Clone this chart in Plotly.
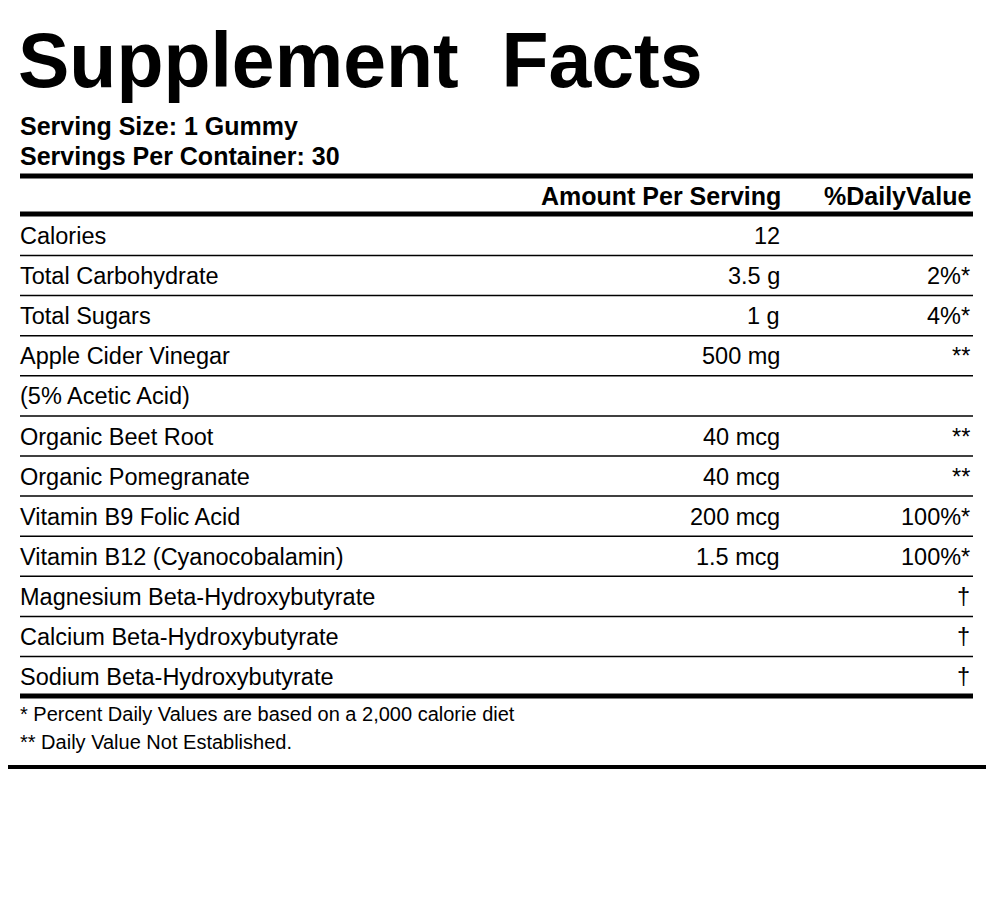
import plotly.graph_objects as go

# label content
title = "Supplement  Facts"
serving_lines = ["Serving Size: 1 Gummy", "Servings Per Container: 30"]
header = ["Amount Per Serving", "%DailyValue"]
nutrients = ["Calories", "Total Carbohydrate", "Total Sugars", "Apple Cider Vinegar",
             "(5% Acetic Acid)", "Organic Beet Root", "Organic Pomegranate",
             "Vitamin B9 Folic Acid", "Vitamin B12 (Cyanocobalamin)",
             "Magnesium Beta-Hydroxybutyrate", "Calcium Beta-Hydroxybutyrate",
             "Sodium Beta-Hydroxybutyrate"]
amounts = ["12", "3.5 g", "1 g", "500 mg", "", "40 mcg", "40 mcg", "200 mcg",
           "1.5 mcg", "", "", ""]
daily_values = ["", "2%*", "4%*", "**", "", "**", "**", "100%*", "100%*", "†", "†", "†"]
footnotes = ["* Percent Daily Values are based on a 2,000 calorie diet",
             "** Daily Value Not Established."]

FONT = "Liberation Sans, Arial, Helvetica, sans-serif"
fig = go.Figure()
shapes = []
ann = []

def text(x, y, s, size, anchor="left", bold=False):
    ann.append(dict(x=x, y=y, text=f"<b>{s}</b>" if bold else s, showarrow=False,
                    xanchor=anchor, yanchor="middle", xshift=-2 if anchor == "left" else 2,
                    font=dict(family=FONT, size=size, color="black")))

def hline(y, w):
    shapes.append(dict(type="line", x0=20, x1=973, y0=y, y1=y,
                       line=dict(color="black", width=w)))

# outer border
shapes.append(dict(type="rect", x0=2, x1=991, y0=2, y1=767,
                   line=dict(color="black", width=4)))

text(18, 60, title, 77, bold=True)
text(20, 126, serving_lines[0], 25, bold=True)
text(20, 156, serving_lines[1], 25, bold=True)
hline(176, 5)
text(781, 196, header[0], 25, "right", bold=True)
text(971, 196, header[1], 25, "right", bold=True)
hline(214, 5)

y0, step = 236, 40.1
for i, name in enumerate(nutrients):
    y = y0 + i * step
    text(20, y, name, 23.5)
    if amounts[i]:
        text(780, y, amounts[i], 23.5, "right")
    if daily_values[i]:
        text(970, y, daily_values[i], 23.5, "right")
    if i < len(nutrients) - 1:
        hline(y + 19.5, 1.5)
hline(696, 5)
text(20, 714, footnotes[0], 20)
text(20, 742, footnotes[1], 20)

# page body has an 8px margin: shift the plot so axis units equal page pixels
fig.update_layout(
    width=986, height=907, margin=dict(l=0, r=0, t=0, b=0),
    plot_bgcolor="white", paper_bgcolor="white",
    xaxis=dict(range=[8, 994], visible=False),
    yaxis=dict(range=[915, 8], visible=False),
    shapes=shapes, annotations=ann, showlegend=False,
)
fig.write_html("out.html")
